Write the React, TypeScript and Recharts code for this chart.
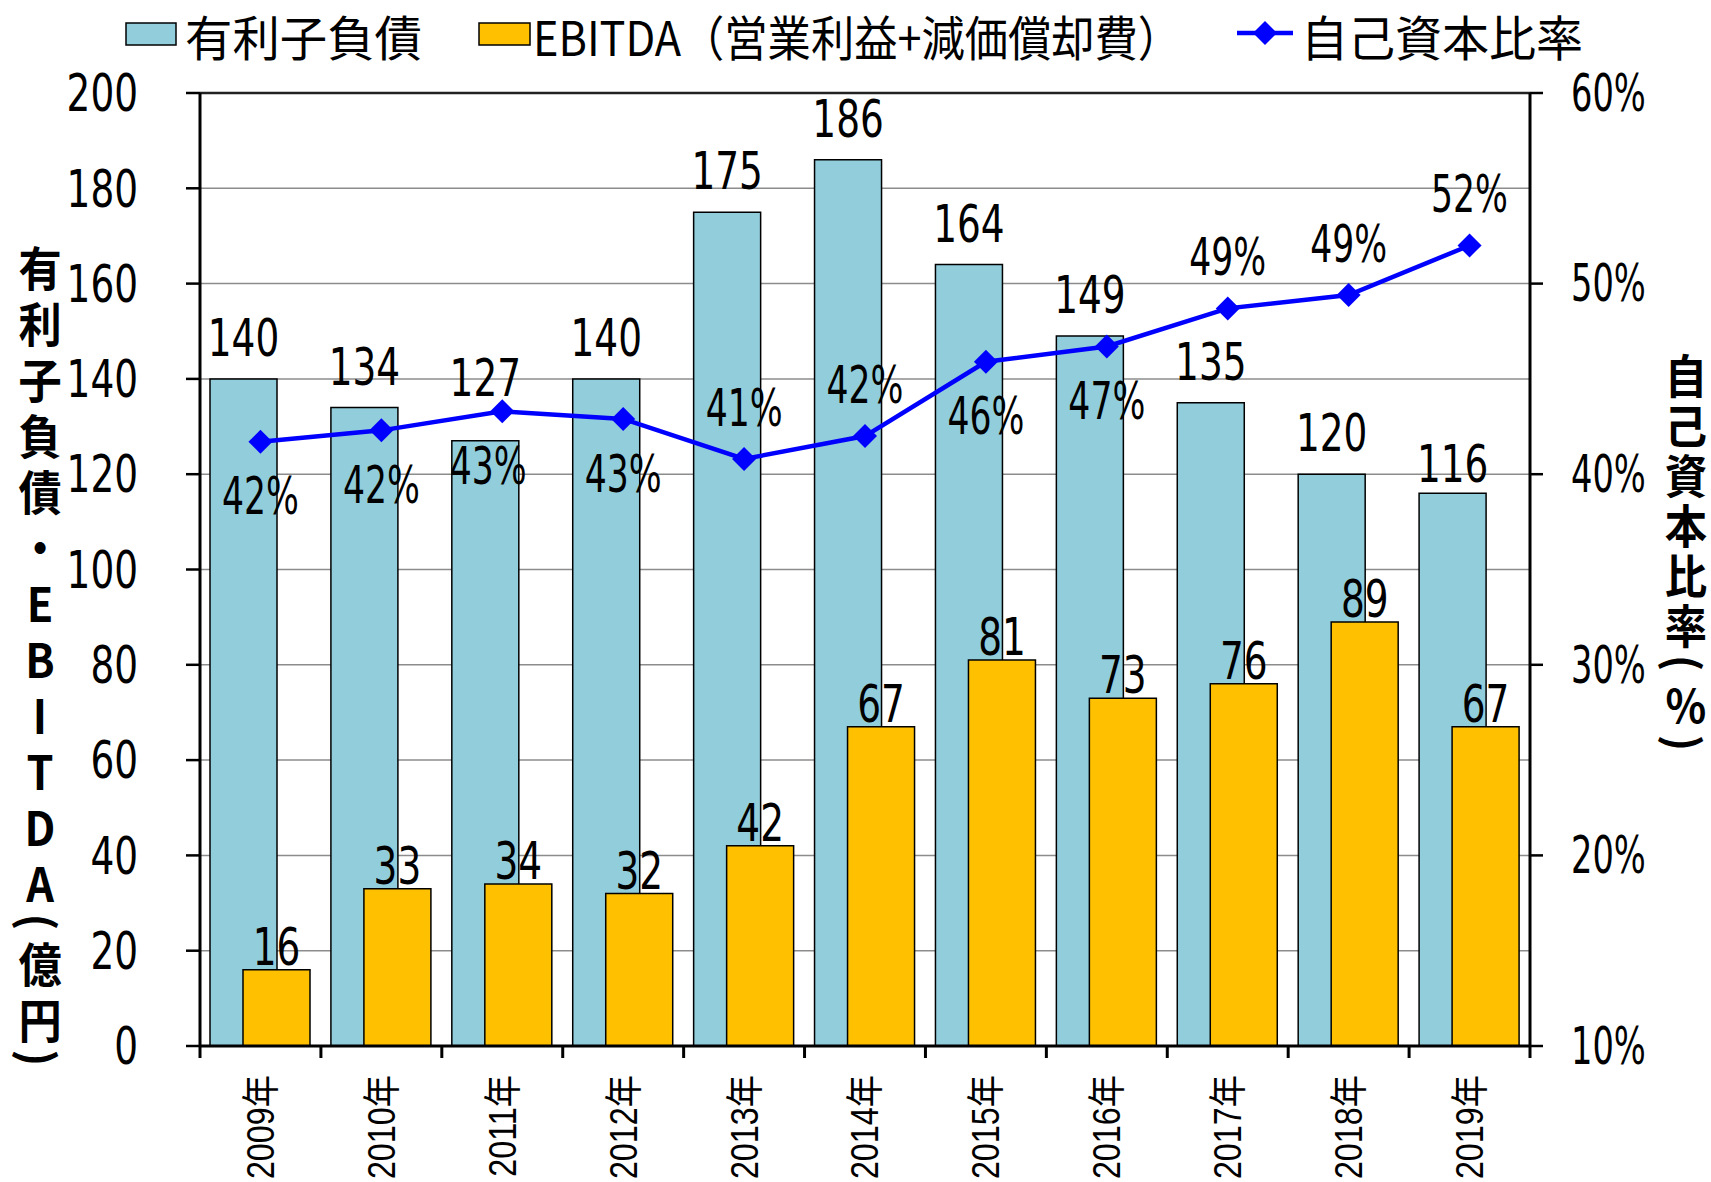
import { Bar, CartesianGrid, ComposedChart, LabelList, Line, ReferenceLine, XAxis, YAxis } from "recharts";

const years = ["2009年", "2010年", "2011年", "2012年", "2013年", "2014年", "2015年", "2016年", "2017年", "2018年", "2019年"];
const debt = [140, 134, 127, 140, 175, 186, 164, 149, 135, 120, 116];
const ebitda = [16, 33, 34, 32, 42, 67, 81, 73, 76, 89, 67];
const equityRatio = [41.7, 42.3, 43.3, 42.9, 40.8, 42.0, 45.9, 46.7, 48.7, 49.4, 52.0];
const leftTicks = [0, 20, 40, 60, 80, 100, 120, 140, 160, 180, 200];
const rightTicks = [10, 20, 30, 40, 50, 60];

// label placement tweaks (as in the source chart)
const ratioLabelAbove = [false, false, false, false, true, true, false, false, true, true, true];
const ratioLabelShift: Record<number, number> = { 2: -14 };
const debtLabelLift: Record<number, number> = { 2: 22, 10: -12 };

const rows = years.map((year, i) => ({ year, debt: debt[i], ebitda: ebitda[i], ratio: equityRatio[i] }));

const W = 1711;
const H = 1182;
const LEFT_W = 200;
const RIGHT_W = 181;
const PLOT_W = W - LEFT_W - RIGHT_W;
const NUM_FONT = "'DejaVu Sans Condensed', 'Liberation Sans', sans-serif";
const JP_FONT = "'Noto Sans CJK JP', sans-serif";
const NUM_SIZE = 52;

// vertical axis titles, one glyph per row; brackets get turned on their side
const leftTitle = ["有", "利", "子", "負", "債", "・", "E", "B", "I", "T", "D", "A", "(", "億", "円", ")"];
const rightTitle = ["自", "己", "資", "本", "比", "率", "(", "%", ")"];
const isParen = (c: string) => c === "(" || c === ")";

function stack(chars: string[], start: number, step: number, parenStep: number) {
  const out: number[] = [];
  let y = start;
  chars.forEach((c, i) => {
    if (i > 0) y += isParen(c) || isParen(chars[i - 1]) ? parenStep : step;
    out.push(y);
  });
  return out;
}

function TitleColumn({ chars, x, ys, size }: { chars: string[]; x: number; ys: number[]; size: number }) {
  return (
    <g>
      {chars.map((c, i) => (
        <text
          key={i}
          x={0}
          y={0}
          transform={isParen(c) ? `translate(${x}, ${ys[i]}) rotate(90)` : `translate(${x}, ${ys[i]}) scale(0.92, 1)`}
          textAnchor="middle"
          dominantBaseline="central"
          fontFamily={JP_FONT}
          fontWeight={700}
          fontSize={isParen(c) ? size * 0.95 : size}
          fill="#000"
        >
          {c}
        </text>
      ))}
    </g>
  );
}

// condensed text: the source chart uses a narrow face
function Narrow({ x, y, anchor = "middle", sx = 0.8, children }: any) {
  return (
    <text
      x={0}
      y={0}
      transform={`translate(${x}, ${y}) scale(${sx}, 1)`}
      textAnchor={anchor}
      dominantBaseline="central"
      fontFamily={NUM_FONT}
      fontSize={NUM_SIZE}
      fill="#000"
    >
      {children}
    </text>
  );
}

function LeftTick(props: any) {
  const { x, y, payload } = props;
  return <Narrow x={x} y={y} anchor="end">{payload.value}</Narrow>;
}

function RightTick(props: any) {
  const { x, y, payload } = props;
  return <Narrow x={x} y={y} anchor="start" sx={0.72}>{`${payload.value}%`}</Narrow>;
}

function YearTick(props: any) {
  const { x, y, payload, index } = props;
  const half = PLOT_W / years.length / 2;
  return (
    <g>
      <line x1={x - half} x2={x - half} y1={y} y2={y + 12} stroke="#000" strokeWidth={3} />
      {index === years.length - 1 && <line x1={x + half} x2={x + half} y1={y} y2={y + 12} stroke="#000" strokeWidth={3} />}
      <text
        x={0}
        y={0}
        transform={`translate(${x}, ${y + 29}) rotate(-90) scale(0.85, 1)`}
        textAnchor="end"
        dominantBaseline="central"
        fontFamily="'Liberation Sans', Arial, 'Noto Sans CJK JP', sans-serif"
        fontSize={38}
        fill="#000"
      >
        {payload.value}
      </text>
    </g>
  );
}

function DebtLabel(props: any) {
  const { x, y, width, value, index } = props;
  const lift = 22 + (debtLabelLift[index] ?? 0);
  return <Narrow x={Number(x) + Number(width) / 2} y={Number(y) - lift - 19}>{value}</Narrow>;
}

function EbitdaLabel(props: any) {
  const { x, y, width, value } = props;
  return <Narrow x={Number(x) + Number(width) / 2} y={Number(y) - 4 - 19}>{value}</Narrow>;
}

function RatioLabel(props: any) {
  const { x, y, value, index } = props;
  const dy = ratioLabelAbove[index] ? -51 : 55;
  const dx = ratioLabelShift[index] ?? 0;
  return <Narrow x={Number(x) + dx} y={Number(y) + dy} sx={0.74}>{`${Math.round(Number(value))}%`}</Narrow>;
}

function Diamond(props: any) {
  const { cx, cy } = props;
  if (cx == null || cy == null) return null;
  const r = 12;
  return <path d={`M${cx},${cy - r}L${cx + r},${cy}L${cx},${cy + r}L${cx - r},${cy}Z`} fill="#0000FF" />;
}

function Legend() {
  return (
    <svg width={W} height={80} style={{ position: "absolute", left: 0, top: 0, pointerEvents: "none" }}>
      <rect x={126} y={23} width={50} height={22} fill="#92CDDC" stroke="#000" strokeWidth={1.5} />
      <text x={185} y={35} dominantBaseline="central" fontFamily={JP_FONT} fontSize={48} textLength={237} lengthAdjust="spacingAndGlyphs">
        有利子負債
      </text>
      <rect x={479} y={23} width={51} height={22} fill="#FFC000" stroke="#000" strokeWidth={1.5} />
      <text x={533} y={35} dominantBaseline="central" fontFamily={JP_FONT} fontSize={48} textLength={648} lengthAdjust="spacingAndGlyphs">
        EBITDA（営業利益+減価償却費）
      </text>
      <line x1={1237} x2={1293} y1={33} y2={33} stroke="#0000FF" strokeWidth={4.5} />
      <Diamond cx={1265} cy={33} />
      <text x={1301} y={35} dominantBaseline="central" fontFamily={JP_FONT} fontSize={48} textLength={282} lengthAdjust="spacingAndGlyphs">
        自己資本比率
      </text>
    </svg>
  );
}

export default function App() {
  const leftYs = stack(leftTitle, 266, 56, 40);
  const rightYs = stack(rightTitle, 373, 50, 40);
  return (
    <div style={{ position: "absolute", left: 0, top: 0, width: W, height: H, background: "#fff" }}>
      <ComposedChart width={W} height={H} data={rows} margin={{ top: 93, right: 0, bottom: 0, left: 0 }} barSize={67} barGap={-34}>
        <CartesianGrid vertical={false} stroke="#8c8c8c" strokeWidth={1.5} />
        <XAxis
          dataKey="year"
          height={136}
          interval={0}
          tickLine={false}
          tickSize={0}
          tickMargin={0}
          axisLine={{ stroke: "#000", strokeWidth: 3 }}
          tick={<YearTick />}
        />
        <YAxis
          width={LEFT_W}
          domain={[0, 200]}
          ticks={leftTicks}
          interval={0}
          tickSize={14}
          tickMargin={48}
          axisLine={{ stroke: "#000", strokeWidth: 3 }}
          tickLine={{ stroke: "#000", strokeWidth: 2.5 }}
          tick={<LeftTick />}
        />
        <YAxis
          yAxisId="right"
          orientation="right"
          width={RIGHT_W}
          domain={[10, 60]}
          ticks={rightTicks}
          interval={0}
          tickSize={13}
          tickMargin={28}
          axisLine={{ stroke: "#000", strokeWidth: 3 }}
          tickLine={{ stroke: "#000", strokeWidth: 2.5 }}
          tick={<RightTick />}
        />
        <ReferenceLine y={200} stroke="#222" strokeWidth={2.5} />
        <Bar dataKey="debt" fill="#92CDDC" stroke="#000" strokeWidth={1.5} isAnimationActive={false}>
          <LabelList dataKey="debt" content={<DebtLabel />} />
        </Bar>
        <Bar dataKey="ebitda" fill="#FFC000" stroke="#000" strokeWidth={1.5} isAnimationActive={false}>
          <LabelList dataKey="ebitda" content={<EbitdaLabel />} />
        </Bar>
        <Line
          yAxisId="right"
          dataKey="ratio"
          stroke="#0000FF"
          strokeWidth={4.5}
          dot={<Diamond />}
          activeDot={false}
          isAnimationActive={false}
        >
          <LabelList dataKey="ratio" content={<RatioLabel />} />
        </Line>
      </ComposedChart>
      <svg width={W} height={H} style={{ position: "absolute", left: 0, top: 0, pointerEvents: "none" }}>
        <TitleColumn chars={leftTitle} x={40} ys={leftYs} size={47} />
        <TitleColumn chars={rightTitle} x={1686} ys={rightYs} size={46} />
      </svg>
      <Legend />
    </div>
  );
}
